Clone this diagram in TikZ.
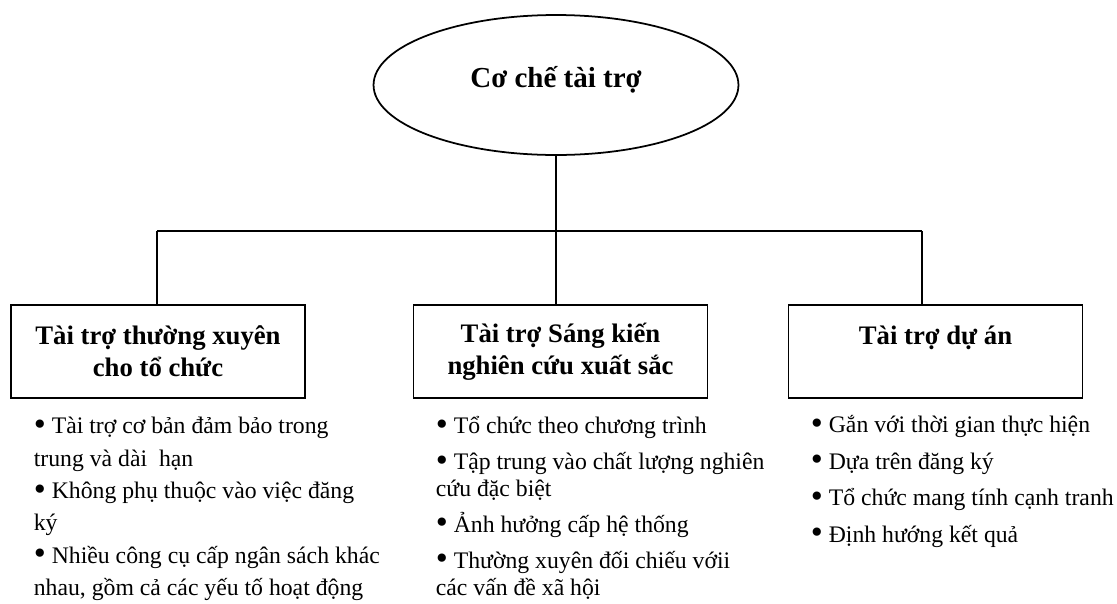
\documentclass[tikz,border=0pt]{standalone}
\usepackage{fontspec}
\setmainfont{Liberation Serif}
\usetikzlibrary{shapes.geometric}
\newcommand{\toprow}{\rule{0pt}{13pt}}
\newcommand{\dotmark}{\raisebox{-0.15ex}{\scalebox{1.45}{•}}}

\begin{document}
\begin{tikzpicture}[x=0.02cm,y=-0.02cm,line width=1pt,
  rootnode/.style={ellipse,draw,minimum width=7.3cm,minimum height=2.8cm,text height=12pt,text depth=8.6pt,font=\fontsize{16.5}{20}\selectfont\bfseries},
  fundbox/.style={draw,minimum width=5.88cm,minimum height=1.86cm,align=center,font=\fontsize{15.2}{18.2}\selectfont\bfseries},
  pointlist/.style={anchor=north west,inner sep=0pt,align=left}]
\useasboundingbox (0,0) rectangle (1117,603);
\node[rootnode] (root) at (556,85) {Cơ chế tài trợ};
\node[fundbox] (regular) at (158,351.5) {Tài trợ thường xuyên\\cho tổ chức};
\node[fundbox] (excel) at (560.5,351.5) {Tài trợ Sáng kiến\\nghiên cứu xuất sắc};
\node[fundbox] (project) at (935.5,351.5) {Tài trợ dự án\\~};
\coordinate (dropL) at (157,231);
\coordinate (dropM) at (556,231);
\coordinate (dropR) at (922,231);
\draw (root.south) -- (dropM);
\draw (dropL) -- (dropR);
\draw (dropL) -- (dropL |- regular.north);
\draw (dropM) -- (dropM |- excel.north);
\draw (dropR) -- (dropR |- project.north);
\node[pointlist,font=\fontsize{13.5}{18.4}\selectfont] (regularpts) at (33,410)
  {\toprow\dotmark{} Tài trợ cơ bản đảm bảo trong\\trung và dài \ hạn\\\dotmark{} Không phụ thuộc vào việc đăng\\ký\\\dotmark{} Nhiều công cụ cấp ngân sách khác\\nhau, gồm cả các yếu tố hoạt động};
\node[pointlist,font=\fontsize{13.5}{15.3}\selectfont] (excelpts) at (435,410)
  {\toprow\dotmark{} Tổ chức theo chương trình\\[5.1pt]\dotmark{} Tập trung vào chất lượng nghiên\\cứu đặc biệt\\[5.1pt]\dotmark{} Ảnh hưởng cấp hệ thống\\[5.1pt]\dotmark{} Thường xuyên đối chiếu vớii\\các vấn đề xã hội};
\node[pointlist,font=\fontsize{13.5}{20.8}\selectfont] (projectpts) at (810,409)
  {\toprow\dotmark{} Gắn với thời gian thực hiện\\\dotmark{} Dựa trên đăng ký\\\dotmark{} Tổ chức mang tính cạnh tranh\\\dotmark{} Định hướng kết quả};
\end{tikzpicture}
\end{document}
